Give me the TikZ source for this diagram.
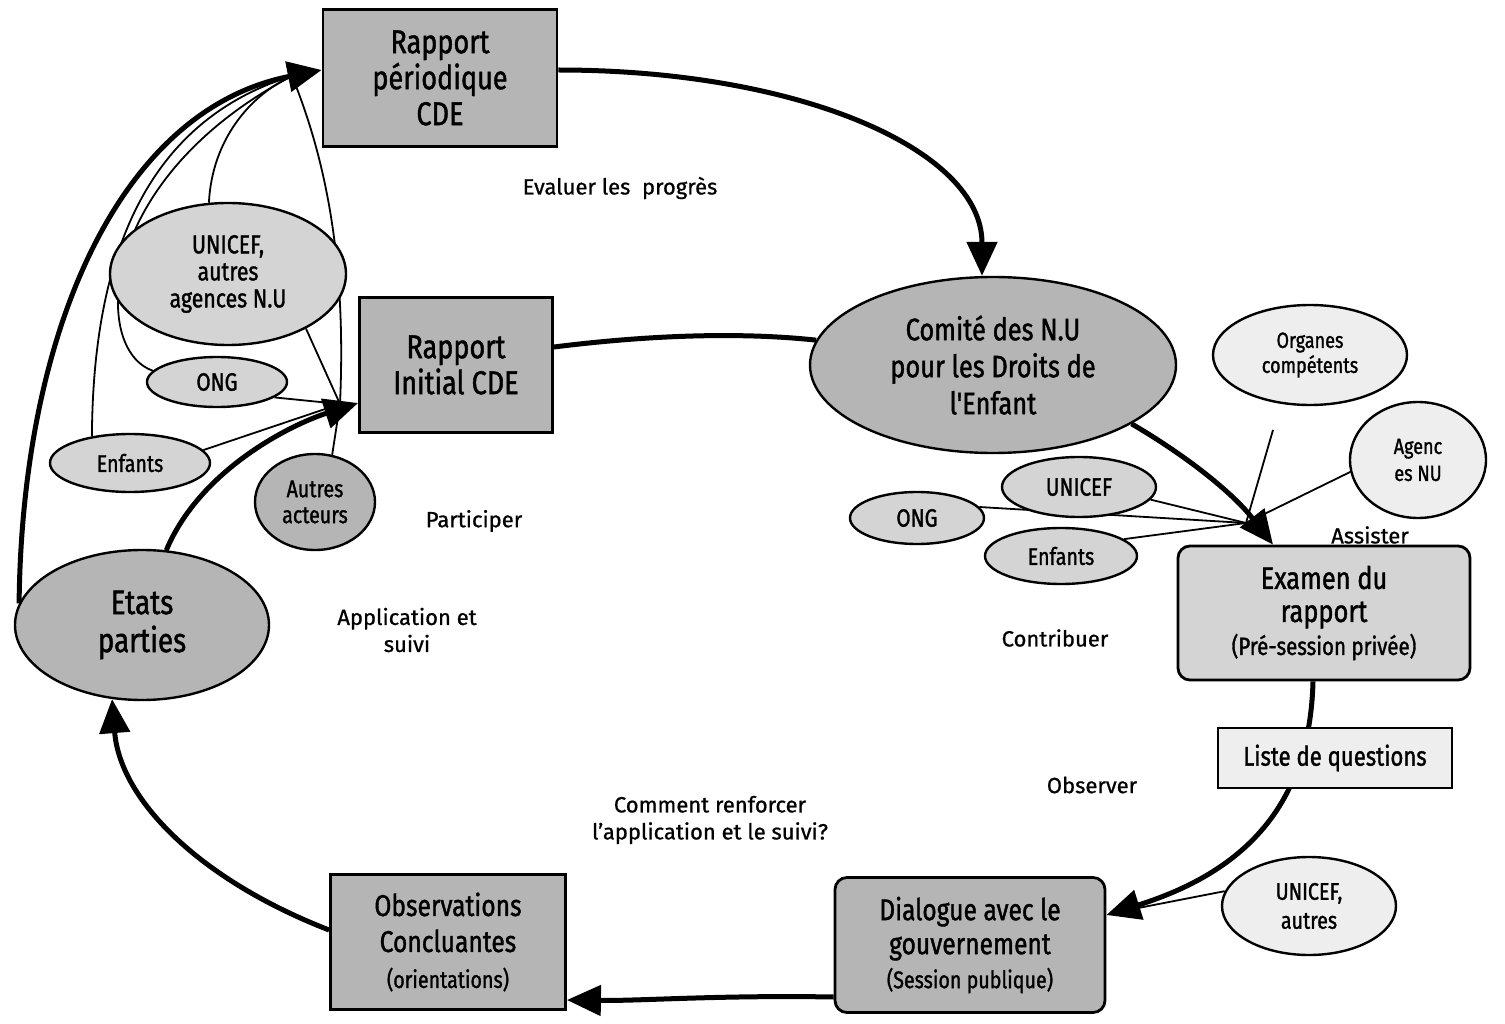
\documentclass[tikz,border=0pt]{standalone}
\usepackage{fontspec}
\setmainfont{Fira Sans}[FakeBold=0.8]
\newfontfamily\boxfont{Fira Sans}[FakeStretch=0.82,FakeBold=1.3]
\usetikzlibrary{arrows.meta,shapes.geometric,backgrounds}
\tikzset{
  box/.style={draw, line width=2.8pt, rectangle, align=center, inner sep=0pt},
  rbox/.style={box, rounded corners=12pt},
  ell/.style={draw, line width=2.4pt, ellipse, align=center, inner sep=0pt},
  dark/.style={fill=gray!58},
  mid/.style={fill=gray!34},
  light/.style={fill=gray!13},
  lbl/.style={align=center, font=\fontsize{22}{27}\selectfont},
  flow/.style={line width=5pt, -{Triangle[length=34pt,width=30pt]}},
  flowplain/.style={line width=5pt},
  feed/.style={line width=1.8pt},
}
\newcommand{\fs}[2]{\boxfont\fontsize{#1}{#2}\selectfont}
\begin{document}
\begin{tikzpicture}[x=1pt,y=-1pt]
\useasboundingbox (0,0) rectangle (1505,1024);

% ---- main nodes ----
\node[box,dark,minimum width=234pt,minimum height=137pt,font={\fs{33}{36}}] (rp) at (440,78) {Rapport\\périodique\\CDE};
\node[box,dark,minimum width=193pt,minimum height=135pt,font={\fs{33}{36}}] (ri) at (456,365) {Rapport\\Initial CDE};
\node[ell,dark,minimum width=366pt,minimum height=176pt,font={\fs{31}{37}}] (com) at (993,365) {Comité des N.U\\pour les Droits de\\l'Enfant};
\node[ell,light,minimum width=194pt,minimum height=100pt,font={\fs{22}{25}}] (org) at (1310,355) {Organes\\compétents};
\node[ell,light,minimum width=136pt,minimum height=116pt,font={\fs{22}{27}}] (agn) at (1418,460) {Agenc\\es NU};
\node[ell,mid,minimum width=154pt,minimum height=60pt,font={\fs{25}{28}}] (unr) at (1079,487) {UNICEF};
\node[ell,mid,minimum width=134pt,minimum height=52pt,font={\fs{25}{28}}] (ongr) at (917,518) {ONG};
\node[ell,mid,minimum width=152pt,minimum height=56pt,font={\fs{24}{27}}] (enr) at (1061,556) {Enfants};
\node[rbox,mid,minimum width=292pt,minimum height=134pt,font={\fs{31}{33}}] (ex) at (1324,613) {Examen du\\rapport\\{\fs{25}{30}(Pré-session privée)}};
\node[box,light,minimum width=234pt,minimum height=60pt,font={\fs{27}{30}}] (lq) at (1335,758) {Liste de questions};
\node[ell,light,minimum width=174pt,minimum height=98pt,font={\fs{24}{29}}] (una) at (1309,906) {UNICEF,\\autres};
\node[rbox,dark,minimum width=270pt,minimum height=135pt,font={\fs{30}{34}}] (dia) at (970,945) {Dialogue avec le\\gouvernement\\{\fs{24}{28}(Session publique)}};
\node[box,dark,minimum width=235pt,minimum height=135pt,font={\fs{30}{36}}] (obs) at (448,942) {Observations\\Concluantes\\{\fs{24}{28}(orientations)}};
\node[ell,dark,minimum width=254pt,minimum height=150pt,font={\fs{34}{38}}] (eta) at (142,625) {Etats\\parties};
\node[ell,mid,minimum width=236pt,minimum height=142pt,font={\fs{26}{27}}] (unl) at (228,274) {UNICEF,\\autres\\agences N.U};
\node[ell,mid,minimum width=140pt,minimum height=50pt,font={\fs{25}{28}}] (ongl) at (217,382) {ONG};
\node[ell,mid,minimum width=160pt,minimum height=58pt,font={\fs{24}{27}}] (enl) at (130,463) {Enfants};
\node[ell,dark,minimum width=120pt,minimum height=96pt,font={\fs{24}{26}}] (aut) at (315,502) {Autres\\acteurs};

% ---- labels ----
\node[lbl] (evl) at (620,188) {Evaluer les\ \ progrès};
\node[lbl] (par) at (474,521) {Participer};
\node[lbl] (app) at (407,630) {Application et\\suivi};
\node[lbl] (con) at (1055,638) {Contribuer};
\node[lbl] (ass) at (1370,535) {Assister};
\node[lbl] (obsv) at (1092,785) {Observer};
\node[lbl] (cmt) at (710,820) {Comment renforcer\\l{\char"0027}application et le suivi?};

% ---- connectors ----
\begin{pgfonlayer}{background}
\fill[white] (0,0) rectangle (1505,1024);
\coordinate (cP) at (292,76);
\coordinate (cR) at (340,404);
\coordinate (cQ) at (1246,523);
\coordinate (cD) at (1128,910);
\coordinate (oStart) at (1273,430);

% main cycle
\draw[flow] ([yshift=8pt]rp.east) .. controls (800,70) and (982,150) .. ([xshift=-11pt]com.north);
\draw[flowplain] ([yshift=18pt]ri.east) .. controls (650,335) and (740,332) .. (com.172);
\draw[flow] (com.-23) .. controls (1185,455) and (1232,492) .. ([xshift=-51pt]ex.north);
\draw[flow] ([xshift=-11pt]ex.south) .. controls (1310,800) and (1250,870) .. ([yshift=30pt]dia.east);
\draw[flow] ([yshift=-52pt]dia.west) .. controls (720,995) and (640,1001) .. ([yshift=-58pt]obs.east);
\draw[flow] ([yshift=12pt]obs.west) .. controls (200,880) and (120,800) .. (eta.248);
\draw[flow] (eta.72) .. controls (200,470) and (290,425) .. ([yshift=-38pt]ri.west);
\draw[flow] (eta.170) .. controls (22,330) and (120,110) .. ([yshift=8pt]rp.west);

% contributions, left
\draw[feed] (enl.145) .. controls (93,250) and (150,120) .. (cP);
\draw[feed] (ongl.170) .. controls (92,350) and (95,180) .. (cP);
\draw[feed] (unl.105) .. controls (212,140) and (250,95) .. (cP);
\draw[feed] (cR) .. controls (347,250) and (322,150) .. (cP);
\draw[feed] (unl.-35) -- (cR);
\draw[feed] (ongl.-15) -- (cR);
\draw[feed] (enl.10) -- (cR);
\draw[feed] (aut.70) -- (cR);

% contributions, right
\draw[feed] (unr.-10) -- (cQ);
\draw[feed] (ongr.10) -- (cQ);
\draw[feed] (enr.15) -- (cQ);
\draw[feed] (oStart) -- (cQ);
\draw[feed] (agn.-170) -- (cQ);
\draw[feed] (una.170) -- (cD);
\end{pgfonlayer}
\end{tikzpicture}
\end{document}
